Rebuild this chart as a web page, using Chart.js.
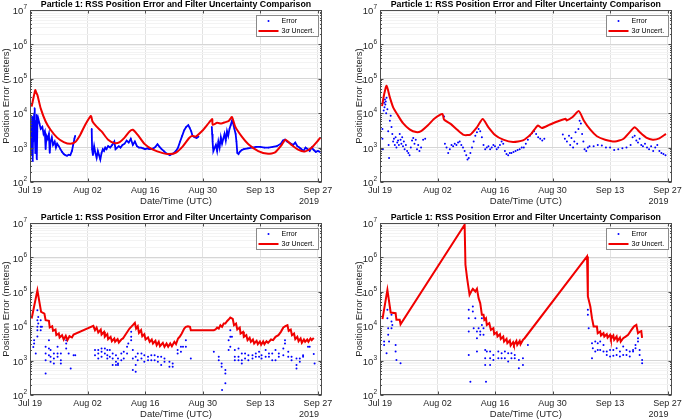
<!DOCTYPE html>
<html>
<head>
<meta charset="utf-8">
<script src="https://cdn.jsdelivr.net/npm/chart.js@4.4.0/dist/chart.umd.min.js"></script>
<style>
body { margin: 0; background: #fff; width: 685px; height: 420px; position: relative; overflow: hidden; }
canvas { position: absolute; }
</style>
</head>
<body>
<canvas id="c1" width="342" height="210" style="left:0;top:0"></canvas>
<canvas id="c2" width="343" height="210" style="left:342px;top:0"></canvas>
<canvas id="c3" width="342" height="210" style="left:0;top:210px"></canvas>
<canvas id="c4" width="343" height="210" style="left:342px;top:210px"></canvas>
<script>
// axes (days since Jul 19 2019)
const xTickDays = [0, 14, 28, 42, 56, 70];
const xTickLabels = ['Jul 19', 'Aug 02', 'Aug 16', 'Aug 30', 'Sep 13', 'Sep 27'];
const yExponents = [2, 3, 4, 5, 6, 7];
const yearLabel = '2019';
const titleText = 'Particle 1: RSS Position Error and Filter Uncertainty Comparison';
const xTitle = 'Date/Time (UTC)';
const yTitle = 'Position Error (meters)';

// panel 1 (top left)
const errA = [
  [0.3,3000],[0.35,1200],[0.4,600],[0.5,8000],[0.6,2000],[0.7,400],[0.8,5000],[0.9,1500],[1.0,10000],[1.1,14000],[1.2,3000],[1.3,700],[1.4,6000],[1.5,2000],[1.6,9000],[1.7,450],[1.8,5000],
  [2.0,7000],[2.3,5000],[2.6,3500],[3.0,4000],[3.3,2500],[3.6,3000],[3.8,900],[4.0,2200],[4.3,1800],[4.6,2500],[4.8,700],[5.0,1500],[5.3,2000],[5.6,1200],[6.0,1500],[6.3,1000],[6.6,1300],[7.0,1100],[7.4,900],[7.8,750],[8.2,650],[8.6,600],[9.0,580],[9.4,620],[9.8,600],[10.2,800],[10.5,1200],[10.8,1800],[11.0,2200],
  [12.0,null],
  [15.0,3500],[15.1,900],[15.3,600],[15.6,1100],[15.9,700],[16.2,500],[16.5,800],[16.8,600],[17.1,450],[17.4,700],[17.7,900],[18.0,800],[18.3,1000],[18.6,900],[19.0,1100],[19.5,1000],[20.0,1200],[20.5,1500],[20.8,900],[21.2,1000],[21.6,1100],[22.0,1000],[22.5,1200],[23.0,1300],[23.5,1600],[24.0,1400],[24.5,1800],[25.0,1200],[25.5,1500],[26.0,1100],[26.5,1000],[27.0,1000],[27.5,950],[28.0,900],[28.5,950],[29.0,900],[29.5,900],[30.0,950],[30.5,1050],[31.0,1250],[31.5,1050],[32.0,900],[32.5,800],[33.0,700],[33.5,650],[34.0,600],[34.5,650],[35.0,700],[35.5,800],[36.0,1000],[36.5,1500],[37.0,2200],[37.5,3200],[38.0,4000],[38.5,4500],[38.8,3800],[39.2,3000],[39.5,2200],[40.0,2000],[40.5,1900],[41.0,2100],
  [42.5,null],
  [44.2,4000],[44.3,2500],[44.4,1500],[44.5,1000],[44.6,800],[45.2,1200],[45.5,800],[45.8,1500],[46.1,1000],[46.4,2000],[46.7,1300],[47.0,1800],[47.3,2500],[47.6,1600],[47.9,3000],[48.2,2200],[48.5,3500],[48.8,4500],[49.1,6000],[49.4,5000],[49.7,3500],[50.0,2500],[50.2,1500],[50.4,700],[50.7,650],[51.0,750],[51.5,850],[52.0,900],[53.0,950],[54.0,1000],[55.0,1050],[56.0,1050],[57.0,1000],[58.0,1000],[59.0,1050],[60.0,1100],[61.0,1300],[61.5,1600],[62.0,1700],[62.5,1500],[63.0,1400],[63.5,1300],[64.0,1200],[64.5,1400],[65.0,1100],[65.5,1000],[66.0,900],[66.5,800],[67.0,1000],[67.5,900],[68.0,800],[68.5,1000],[69.0,850],[69.5,750],[70.0,800],[70.5,750]
];
const sigA = [
  [0.4,15500],[0.9,30000],[1.3,47000],[1.5,40000],[1.8,34000],[2.6,13800],[3.8,5750],[5.0,3300],[6.6,1950],[8.2,1450],[9.8,1290],[11.0,1450],[12.2,2340],[13.4,4570],[14.8,8300],
  [15.2,5750],[16.2,4070],[17.4,2950],[19.0,1700],[20.6,1350],[21.8,1450],[23.0,1950],[24.2,2950],[25.0,3300],[26.2,2340],[27.9,1260],[29.9,870],[32.3,690],[33.9,650],[35.5,720],[37.1,1070],[38.7,1900],[39.5,2190],[40.3,2100],[41.9,3090],[43.1,4570],[44.3,6760],
  [44.4,4600],[45.5,5250],[46.5,5000],[47.5,5500],[48.3,5900],[49.1,7760],[49.9,4070],[51.5,2090],[53.1,1260],[55.5,794],[57.9,661],[59.6,724],[61.2,1200],[62.1,1700],[63.6,1200],[65.2,870],[66.8,776],[68.4,977],[70.0,1585],[70.6,1950]
];

// panel 2 (top right)
const errB = [
  [0.6,3500],[0.6,1800],[0.7,900],[0.9,12000],[1.0,20000],[1.1,15000],[1.2,25000],[1.3,18000],[1.4,22000],[1.5,10000],[1.6,28000],[1.8,13000],[2.0,3000],[2.1,1200],[2.2,500],[2.4,6000],[2.6,8500],[2.8,4000],[3.0,2500],[3.2,1500],[3.4,1800],[3.6,1200],[3.8,2000],[4.0,1000],[4.2,1400],[4.4,1600],[4.6,1200],[4.8,2500],[5.0,1700],[5.2,1300],[5.4,2000],[5.6,1100],[5.8,1500],[6.0,900],[6.3,1200],[6.6,800],[6.9,700],[7.2,600],[7.5,1000],[7.8,1600],[8.1,1900],[8.4,1300],[8.7,1700],[9.0,900],[9.3,1200],[9.6,800],[10.0,1000],[10.5,1700],[11.0,1800],
  [15.6,8000],[15.8,1300],[16.2,1000],[16.6,700],[17.0,900],[17.4,1200],[17.8,1100],[18.2,1300],[18.6,1200],[19.0,1400],[19.4,1500],[19.8,1200],[20.2,1000],[20.6,800],[21.0,600],[21.3,450],[21.6,500],[22.0,700],[22.4,1000],[22.8,1500],[23.2,2200],[23.6,2800],[24.0,3500],[24.4,3000],[24.8,2000],[25.2,1200],[25.6,900],[26.0,1000],[26.4,1100],[26.8,900],[27.2,1000],[27.6,1200],[28.0,1100],[28.4,900],[28.8,1000],[29.2,1200],[29.6,1500],[30.0,1300],[30.4,800],[30.8,650],[31.2,600],[31.6,700],[32.0,700],[32.5,750],[33.0,800],[33.5,850],[34.0,900],[34.5,1000],[35.0,1000],[35.5,1300],[36.0,1700],[36.5,2200],[37.0,2600],[37.5,3000],[38.0,2500],[38.5,2000],[39.0,1800],[39.5,1600],[40.0,1800],
  [44.5,2400],[45.0,1800],[45.5,1500],[46.0,2200],[46.3,1200],[46.6,1900],[47.0,1000],[47.3,1500],[47.6,2800],[48.0,1300],[48.3,3500],[48.6,6000],[48.9,5000],[49.2,2500],[49.5,1500],[49.8,900],[50.2,800],[50.6,1000],[51.0,1100],[52.0,1100],[53.0,1200],[54.0,1150],[55.0,1000],[56.0,1000],[57.0,850],[58.0,900],[59.0,950],[60.0,1000],[61.0,1200],[61.5,2000],[62.0,2200],[62.4,1600],[62.8,1400],[63.2,1800],[63.6,1200],[64.0,1100],[64.5,1300],[65.0,1000],[65.5,900],[66.0,1100],[66.5,800],[67.0,1000],[67.5,1200],[68.0,800],[68.5,700],[69.0,650],[69.5,600]
];
const sigB = [
  [0.5,16000],[1.0,35000],[1.6,63000],[2.4,28800],[3.2,14800],[4.4,8500],[5.6,5130],[7.2,3390],[8.8,2820],[10.0,3020],[11.6,4370],[13.2,6920],[15.2,9550],
  [15.6,6460],[17.2,4900],[18.8,3310],[20.4,2340],[22.0,2400],[23.6,3890],[25.0,6760],[26.4,3890],[28.0,2340],[30.0,1700],[32.4,1450],[34.8,1620],[36.8,2510],[38.4,4370],[39.4,3720],[41.2,4570],[43.2,5750],[45.2,6920],
  [45.4,6170],[46.8,7590],[48.4,11500],[49.6,6170],[51.2,3310],[52.8,2140],[54.8,1700],[57.2,1510],[59.2,1780],[60.8,2820],[62.0,3890],[63.2,2820],[64.8,1950],[66.4,1700],[68.0,1860],[69.6,2510]
];

// panel 3 (bottom left)
const errC = [
  [0.8,2500],[1.0,3930],[1.0,3150],[1.4,1610],[1.8,29000],[1.8,14900],[1.8,9570],[1.8,7660],[1.8,5000],[2.0,18600],[2.0,11950],[2.6,14900],[2.6,9570],[2.6,7660],[2.9,9570],
  [3.8,2520],[3.8,1610],[3.8,1030],[3.8,424],[4.6,3930],[4.6,2250],[4.6,1440],[5.0,2020],[5.0,1290],[5.0,925],[5.8,1610],[5.8,1150],[5.8,827],[6.7,2520],[6.7,1610],[6.7,1290],[7.5,1610],[7.5,1030],[7.5,827],[8.8,3930],[8.8,3150],[8.8,2250],[9.4,1610],[9.9,592],[10.6,1440],[11.0,1440],
  [15.8,2020],[15.8,1440],[16.6,2020],[16.6,1610],[16.6,1150],[17.4,2250],[17.4,1800],[17.4,1290],[18.2,2250],[18.2,1610],[18.8,2020],[18.8,1440],[18.8,1150],[19.4,2020],[19.4,1290],[20.1,1610],[20.1,1150],[20.1,740],[20.9,1440],[20.9,925],[20.9,740],[21.4,1150],[21.4,827],[21.4,740],[22.2,1610],[22.2,1030],[22.8,1800],[22.8,1150],[23.6,2520],[23.6,1610],[23.9,3150],
  [24.6,6850],[24.6,4910],[24.6,3930],[25.0,2020],[25.0,1150],[25.0,530],[25.7,1290],[25.7,740],[25.7,474],[26.2,1610],[26.2,1030],[27.1,1610],[27.1,1150],[27.8,1440],[27.8,925],[28.7,1290],[28.7,1030],[29.5,1440],[29.5,1030],[30.3,1440],[30.3,1030],[31.1,1290],[31.1,925],[31.9,1290],[31.9,740],[32.7,1150],[32.7,925],[33.9,925],[33.9,662],[34.7,827],[34.7,662],[35.9,2020],[35.9,1610],[36.7,2520],[36.7,1800],[37.2,2520],[37.9,3930],[37.9,2520],[39.1,1150],
  [44.7,1800],[45.9,1290],[45.9,1030],[46.6,827],[46.6,662],[46.7,139],[47.5,530],[47.5,424],[47.5,218],[48.3,3930],[48.3,2020],[48.7,7660],[48.7,4910],[48.7,2520],[49.1,4910],[49.8,2020],[49.8,1290],[49.8,1030],[50.7,2250],[50.7,1290],[50.7,1030],[51.5,1610],[51.5,1030],[51.5,827],[52.3,1610],[52.3,1150],[53.1,1440],[53.1,1030],[54.1,1440],[54.1,1150],[54.9,1610],[54.9,1290],[55.7,1800],[55.7,1290],[56.3,1440],[56.3,1150],[57.3,2020],[57.3,1290],[58.1,1610],[58.1,1290],[58.9,1610],[58.9,1030],[59.7,2020],[59.7,1030],[60.5,1610],[60.5,1290],[61.6,2250],[61.6,1440],[62.0,3930],[62.0,3150],[62.8,1800],[62.8,1290],[63.6,1290],[63.6,1030],[64.8,1150],[64.8,740],[64.8,592],[65.6,1150],[65.6,925],[66.4,1440],[66.4,1290],[67.6,2520],[68.0,2520],[69.0,1550],[69.2,827]
];
const sigC = [
  [0.4,16700],[1.8,110000],[2.7,26000],[3.5,23300],[3.8,14900],[4.6,14300],[4.8,9150],[5.4,10000],[5.6,7330],[6.2,8000],[6.4,5490],[7.0,6130],[7.2,4690],[7.8,5490],[8.2,4100],[8.7,5250],[9.1,3930],[9.6,5130],[10.2,4690],[10.6,5730],[15.4,10230],
  [15.8,7660],[16.2,9150],[16.6,6550],[17.2,8000],[17.4,5730],[18.0,6850],[18.2,4910],[18.8,5860],[19.0,4200],[19.6,4910],[19.9,3670],[20.5,4400],[20.7,3520],[21.3,4200],[21.6,3370],[22.2,4100],[22.6,4400],[23.4,6130],[24.2,8550],[25.0,10700],[25.5,12500],
  [25.8,8550],[26.2,10000],[26.5,6410],[27.0,7660],[27.3,5130],[27.8,5860],[28.1,4100],[28.7,4690],[29.1,3520],[29.6,4100],[29.9,3150],[30.5,3760],[30.8,2810],[31.3,3520],[31.6,2630],[32.3,3290],[32.7,2520],[33.2,3150],[33.6,2520],[34.1,3150],[34.5,2630],[35.1,3520],[35.5,3010],[36.0,4400],[36.4,4910],[36.9,6130],[37.5,8550],[37.9,9570],[38.4,10000],[38.9,9570],[39.1,7660],
  [44.7,7660],[45.1,8000],[45.5,9150],[45.9,8550],[46.3,10700],[46.7,9570],[47.1,11950],[47.5,11950],[47.9,13970],[48.3,15600],[48.7,17800],[49.3,16300],[49.6,10700],[50.1,11950],[50.4,8000],[51.0,9150],[51.2,6130],[51.8,6850],[52.0,4910],[52.6,5490],[52.9,3930],[53.4,4590],[53.7,3520],[54.2,4100],[54.5,3150],[55.1,3760],[55.4,3010],[55.9,3600],[56.2,2880],[56.7,3600],[57.0,3010],[57.5,3670],[57.9,3290],[58.6,4100],[59.1,3930],[59.7,4910],[60.4,5490],[61.0,6850],[61.6,9150],[62.1,10000],[62.6,10700],
  [62.9,7330],[63.4,8000],[63.7,5490],[64.2,6130],[64.5,4200],[65.0,4910],[65.3,3670],[65.8,4400],[66.1,3290],[66.6,4100],[66.9,3520],[67.4,4100],[67.7,3520],[68.2,4400],[68.5,3930],[69.0,4590]
];

// panel 4 (bottom right)
const errD = [
  [1.0,3570],[1.0,2860],[1.6,1640],[1.8,29900],[1.8,17100],[2.0,8750],[2.0,5600],[2.2,3570],[2.8,21400],[2.8,13700],[2.8,8750],[3.0,10900],[3.8,2860],[3.8,1830],[4.0,1045],[5.0,836],
  [21.6,29900],[21.6,17100],[21.6,7000],[21.6,1460],[22.0,244],[22.6,37400],[22.6,26700],[22.8,8750],[23.2,17100],[23.6,7000],[23.6,4470],[23.6,1830],[24.0,8750],[24.4,7000],[24.4,5600],[24.8,17100],[24.8,10900],[25.2,8750],[25.2,5600],[25.6,2050],[25.6,1170],[25.6,748],[25.8,244],[26.0,1830],[26.8,1830],[26.8,1170],[26.8,748],[27.6,1460],[27.6,1045],[28.8,1830],[28.8,1170],[29.6,1640],[29.6,1170],[30.4,1830],[30.4,1170],[31.2,1640],[31.2,935],[32.0,1640],[32.0,1170],[32.8,1460],[32.8,1170],[33.8,1045],[33.8,598],[34.8,1170],[34.8,748],[36.0,2860],
  [50.6,29900],[50.6,21400],[50.8,8750],[51.6,3200],[51.6,1170],[51.8,2290],[52.4,3570],[52.4,1830],[53.0,3200],[53.0,2050],[53.6,3570],[53.6,2050],[54.4,2860],[54.4,1830],[55.2,1830],[55.2,1460],[56.0,2050],[56.0,1310],[56.8,2050],[56.8,1380],[57.6,2290],[57.6,1460],[58.4,1830],[58.4,1310],[59.2,2560],[59.2,1460],[60.0,2050],[60.0,1460],[60.8,1830],[60.8,1310],[61.6,2050],[61.6,1830],[62.2,2860],[62.2,2290],[62.8,4470],[62.8,3570],[63.2,2050],[63.2,1460],[63.8,1045],[63.8,836]
];
const sigD = [
  [0.6,16000],[1.8,114000],[2.6,25000],[3.8,23900],[4.0,15300],[4.8,15300],[5.0,11400],[20.6,8900000],
  [20.8,611000],[21.2,250000],[21.8,81800],[22.2,102000],[22.6,122000],[23.2,102000],[23.6,122000],[24.0,65400],[24.4,46800],[24.8,21400],[25.2,21400],[25.4,15300],[25.8,17100],[26.0,10900],[26.6,12200],[27.0,7820],[27.6,8750],[27.8,5850],[28.4,6680],[28.6,5000],[29.2,5850],[29.4,4280],[30.0,5000],[30.2,3570],[30.8,4280],[31.0,3200],[31.6,3830],[31.8,2730],[32.4,3420],[32.6,2860],[33.2,3740],[33.4,2860],[34.0,3740],[34.2,2990],[34.8,4000],[35.2,4470],[50.4,1070000],
  [50.6,73100],[51.2,37400],[51.6,17100],[52.0,9780],[52.8,9780],[53.0,6250],[53.6,7000],[53.8,5350],[54.4,6250],[54.6,5000],[55.2,5850],[55.4,4670],[56.0,5600],[56.2,4280],[56.8,5350],[57.0,4000],[57.6,5000],[57.8,3740],[58.4,4670],[58.6,3570],[59.2,4470],[59.8,5000],[60.4,5600],[61.2,7820],[61.8,9780],[62.4,10900],[62.8,6250],[63.3,7000],[63.6,7200],[63.8,4600]
];

const FONT = '"Liberation Sans", Arial, Helvetica, sans-serif';
const BLUE = '#0000ff';
const RED = '#f00000';

const toXY = arr => arr.map(p => ({ x: p[0], y: p[1] }));
const isDecade = v => Math.abs(Math.log10(v) - Math.round(Math.log10(v))) < 1e-6;

// grid values for the log axis: 1..9 x 10^n
const yGrid = [];
yExponents.forEach((e, i) => {
  if (i === yExponents.length - 1) { yGrid.push(Math.pow(10, e)); return; }
  for (let k = 1; k <= 9; k++) yGrid.push(k * Math.pow(10, e));
});

// MATLAB style decorations: box, tick marks, labels, title, legend
const decor = {
  id: 'decor',
  afterDraw(chart, args, o) {
    const { ctx, chartArea: a, scales: { x, y } } = chart;
    ctx.save();
    ctx.strokeStyle = '#4d4d4d';
    ctx.lineWidth = 1;
    const L = Math.round(a.left) + 0.5, T = Math.round(a.top) + 0.5;
    const R = Math.round(a.right) - 0.5, B = Math.round(a.bottom) - 0.5;
    ctx.strokeRect(L, T, R - L, B - T);
    ctx.beginPath();
    xTickDays.forEach(d => {
      const px = Math.round(x.getPixelForValue(d)) + 0.5;
      ctx.moveTo(px, B); ctx.lineTo(px, B - 3);
      ctx.moveTo(px, T); ctx.lineTo(px, T + 3);
    });
    yGrid.forEach(v => {
      const py = Math.round(y.getPixelForValue(v)) + 0.5;
      const len = isDecade(v) ? 3 : 1.5;
      ctx.moveTo(L, py); ctx.lineTo(L + len, py);
      ctx.moveTo(R, py); ctx.lineTo(R - len, py);
    });
    ctx.stroke();

    // y tick labels 10^n
    ctx.fillStyle = '#262626';
    ctx.textBaseline = 'middle';
    yExponents.forEach(e => {
      const py = y.getPixelForValue(Math.pow(10, e));
      ctx.font = '6.5px ' + FONT;
      const we = ctx.measureText(String(e)).width;
      const xr = a.left - 3 - we;
      ctx.textAlign = 'right';
      ctx.font = '9.5px ' + FONT;
      ctx.fillText('10', xr, py + 1.5);
      ctx.textAlign = 'left';
      ctx.font = '6.5px ' + FONT;
      ctx.fillText(String(e), xr, py - 2.5);
    });

    // title
    const cx = (a.left + a.right) / 2;
    ctx.fillStyle = '#000';
    ctx.textAlign = 'center';
    ctx.font = 'bold 8.8px ' + FONT;
    ctx.fillText(titleText, cx, a.top - 5.5);

    // x title and year
    ctx.fillStyle = '#262626';
    ctx.font = '9.5px ' + FONT;
    ctx.fillText(xTitle, cx, a.bottom + 19);
    ctx.font = '9px ' + FONT;
    ctx.fillText(yearLabel, x.getPixelForValue(xTickDays[xTickDays.length - 1]) - 9, a.bottom + 20);

    // y title
    ctx.save();
    ctx.font = '9.5px ' + FONT;
    ctx.translate(a.left - o.yTitleOff, (a.top + a.bottom) / 2);
    ctx.rotate(-Math.PI / 2);
    ctx.fillText(yTitle, 0, 0);
    ctx.restore();

    // legend box
    const ds = chart.data.datasets;
    const bx = Math.round(a.right) - 65.5, by = Math.round(a.top) + 5.5, bw = 62, bh = 21;
    ctx.fillStyle = '#fff';
    ctx.fillRect(bx, by, bw, bh);
    ctx.strokeStyle = '#8a8a8a';
    ctx.strokeRect(bx, by, bw, bh);
    ctx.fillStyle = ds[1].borderColor;
    ctx.beginPath();
    ctx.arc(bx + 12, by + 5.5, 1, 0, Math.PI * 2);
    ctx.fill();
    ctx.strokeStyle = ds[0].borderColor;
    ctx.lineWidth = 2;
    ctx.beginPath();
    ctx.moveTo(bx + 2, by + 15.5); ctx.lineTo(bx + 22, by + 15.5);
    ctx.stroke();
    ctx.fillStyle = '#000';
    ctx.textAlign = 'left';
    ctx.font = '7px ' + FONT;
    ctx.fillText(ds[1].label, bx + 25, by + 5.5);
    // "3σ Uncert." with italic sigma
    const parts = ds[0].label.split('σ');
    let tx = bx + 25;
    ctx.fillText(parts[0], tx, by + 15.5);
    tx += ctx.measureText(parts[0]).width;
    ctx.font = 'italic 7px ' + FONT;
    ctx.fillText('σ', tx, by + 15.5);
    tx += ctx.measureText('σ').width;
    ctx.font = '7px ' + FONT;
    ctx.fillText(parts[1], tx, by + 15.5);
    ctx.restore();
  }
};

function makeChart(id, err, sig, cfg) {
  const errSet = {
    label: 'Error',
    data: toXY(err),
    borderColor: BLUE,
    backgroundColor: BLUE,
    pointRadius: cfg.errLine ? 0.8 : 1,
    pointBorderWidth: 0,
    showLine: cfg.errLine,
    borderWidth: 1.8,
    spanGaps: false,
    order: 1
  };
  const sigSet = {
    label: '3σ Uncert.',
    data: toXY(sig),
    borderColor: RED,
    backgroundColor: RED,
    pointRadius: 0,
    showLine: true,
    borderWidth: 2,
    tension: cfg.tension,
    order: 0
  };
  return new Chart(document.getElementById(id), {
    type: 'scatter',
    data: { datasets: [sigSet, errSet] },
    options: {
      responsive: false,
      animation: false,
      events: [],
      layout: { padding: { left: 0, right: cfg.padRight, top: cfg.padTop, bottom: 0 } },
      plugins: {
        legend: { display: false },
        tooltip: { enabled: false },
        decor: { yTitleOff: cfg.yTitleOff }
      },
      scales: {
        x: {
          type: 'linear',
          min: 0,
          max: 71,
          afterBuildTicks: s => { s.ticks = xTickDays.map(v => ({ value: v })); },
          afterFit: s => { s.height = cfg.xHeight; },
          ticks: {
            autoSkip: false,
            maxRotation: 0,
            padding: 3,
            color: '#262626',
            font: { family: FONT, size: 9 },
            callback: v => xTickLabels[xTickDays.indexOf(v)]
          },
          grid: { color: '#e2e2e2', drawTicks: false },
          border: { display: false }
        },
        y: {
          type: 'logarithmic',
          min: Math.pow(10, yExponents[0]),
          max: Math.pow(10, yExponents[yExponents.length - 1]),
          afterBuildTicks: s => { s.ticks = yGrid.map(v => ({ value: v })); },
          afterFit: s => { s.width = cfg.yWidth; },
          ticks: { display: false, autoSkip: false },
          grid: {
            color: c => isDecade(c.tick.value) ? '#d6d6d6' : '#f3f3f3',
            drawTicks: false
          },
          border: { display: false }
        }
      }
    },
    plugins: [decor]
  });
}

makeChart('c1', errA, sigA, { errLine: true, tension: 0.2, padTop: 10, padRight: 20, yWidth: 30, xHeight: 28, yTitleOff: 24 });
makeChart('c2', errB, sigB, { errLine: false, tension: 0.2, padTop: 10, padRight: 12, yWidth: 38, xHeight: 28, yTitleOff: 21 });
makeChart('c3', errC, sigC, { errLine: false, tension: 0, padTop: 13, padRight: 20, yWidth: 30, xHeight: 25, yTitleOff: 24 });
makeChart('c4', errD, sigD, { errLine: false, tension: 0, padTop: 13, padRight: 12, yWidth: 38, xHeight: 25, yTitleOff: 21 });
</script>
</body>
</html>
